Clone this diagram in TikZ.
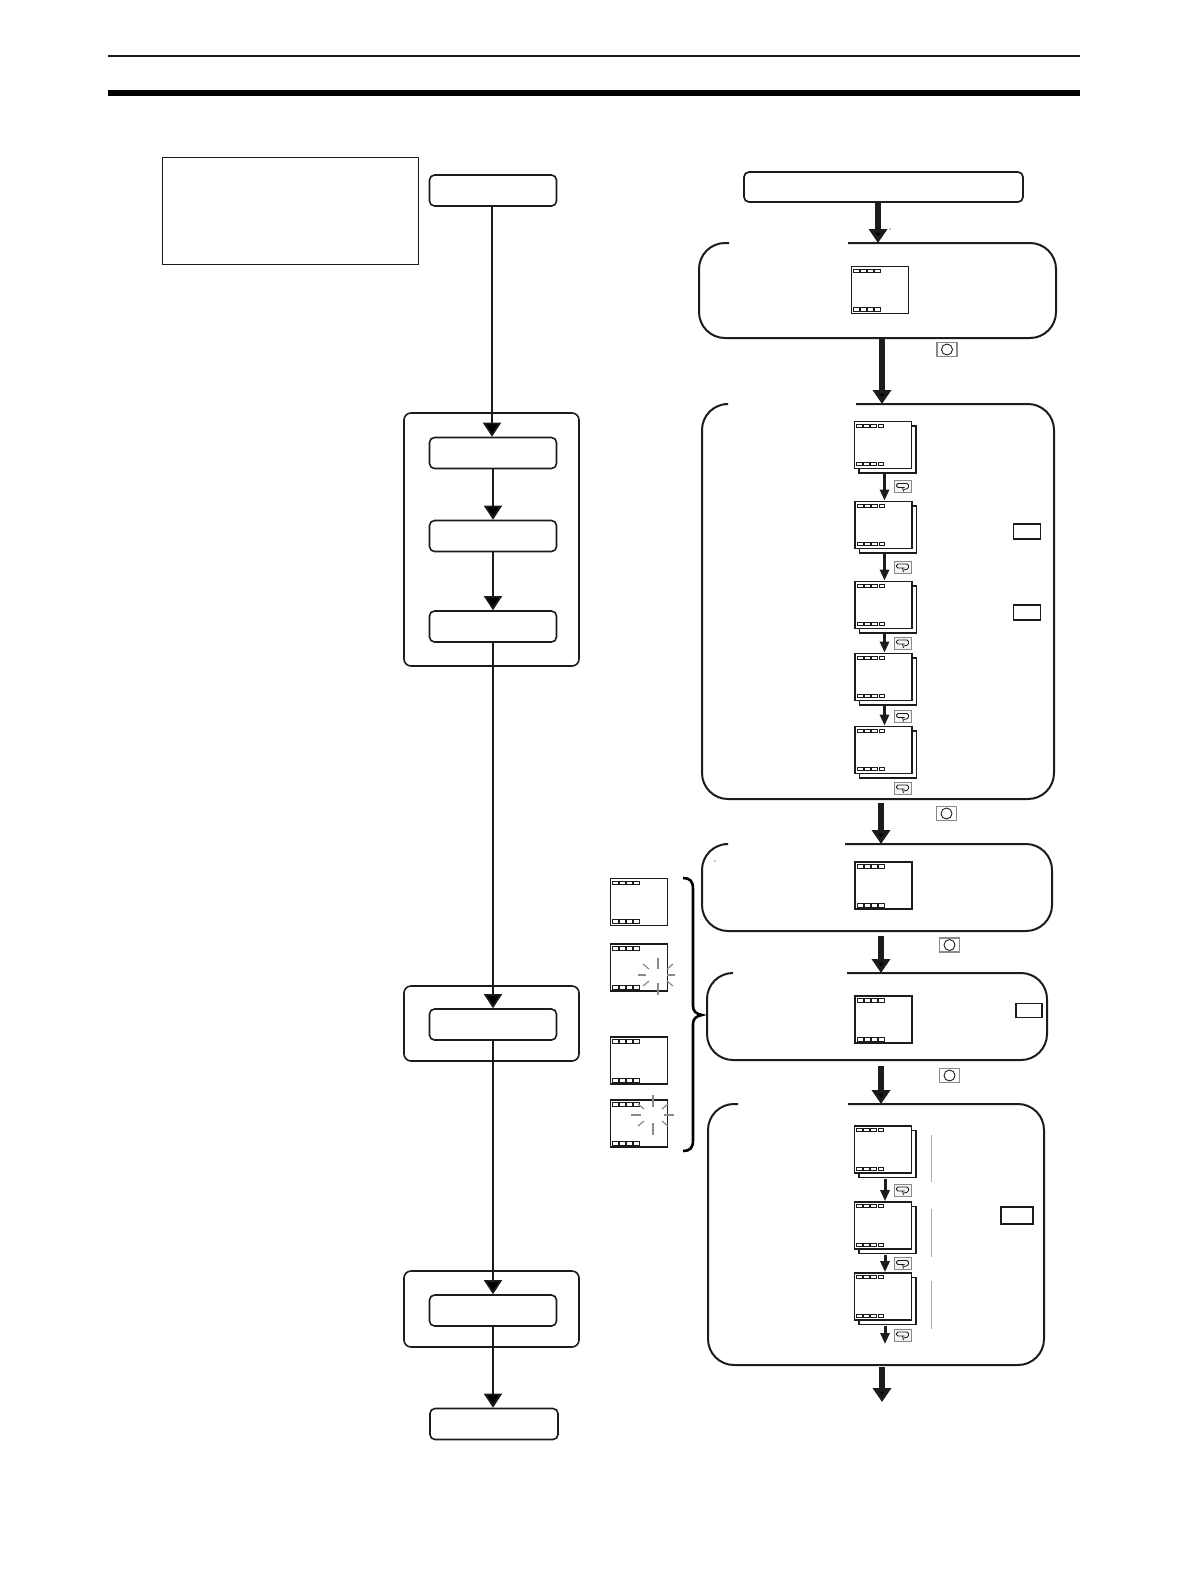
\documentclass[tikz,border=0pt]{standalone}
\usetikzlibrary{arrows.meta,calc,decorations.pathreplacing}
\definecolor{ink}{HTML}{1C1C1C}
\definecolor{soft}{HTML}{8A8A8A}
\tikzset{
  flowbox/.style={draw=ink,line width=1.6*0.75pt,rounded corners=5*0.75pt,inner sep=0pt,minimum width=127*0.75pt,minimum height=31*0.75pt,fill=white},
  groupbox/.style={draw=ink,line width=1.6*0.75pt,rounded corners=7*0.75pt,inner sep=0pt},
  panelline/.style={draw=ink,line width=2*0.75pt,rounded corners=26*0.75pt},
  lcdbox/.style={draw=ink,line width=1.7*0.75pt,fill=white,inner sep=0pt,minimum width=57*0.75pt,minimum height=47*0.75pt},
  lcdshadow/.style={draw=ink,line width=1.1*0.75pt,fill=white,inner sep=0pt,minimum width=57*0.75pt,minimum height=47*0.75pt},
  lcdcell/.style={draw=ink,line width=0.9*0.75pt},
  thinflow/.style={draw=ink,line width=1.7*0.75pt,-{Triangle[width=18*0.75pt,length=14*0.75pt,fill=black]}},
  heavyflow/.style={draw=ink,line width=6*0.75pt,-{Triangle[width=18*0.75pt,length=14*0.75pt,fill=black]}},
  stepflow/.style={draw=ink,line width=3*0.75pt,-{Triangle[width=9*0.75pt,length=11*0.75pt]}},
  keyring/.style={draw=soft,line width=1.2*0.75pt,inner sep=0pt,minimum width=20*0.75pt,minimum height=14*0.75pt,fill=white},
  keyloop/.style={draw=soft,line width=1*0.75pt,inner sep=0pt,minimum width=17*0.75pt,minimum height=12*0.75pt,fill=black!4},
  keyrect/.style={draw=ink,line width=1.5*0.75pt,inner sep=0pt,minimum width=27*0.75pt,minimum height=15*0.75pt},
  flashline/.style={draw=soft,line width=1.2*0.75pt},
  sideline/.style={draw=soft!70,line width=1*0.75pt}
}
% LCD: name, left, top
\newcommand\lcdplain[3]{%
  \begin{scope}[shift={(#2,#3)}]
    \node[lcdbox] (#1) at (28.5,23.5) {};
    \draw[ink,line width=1.5*0.75pt] (0,47) -- (57,47);
    \foreach \a/\b in {2/8,9/15,16/22,23/29}{
      \draw[lcdcell] (\a,2.5) rectangle (\b,6);
      \draw[lcdcell] (\a,41) rectangle (\b,45);
    }
  \end{scope}}
\newcommand\lcdstack[3]{%
  \begin{scope}[shift={(#2,#3)}]
    \node[lcdshadow] (#1s) at (33,28) {};
    \node[lcdbox] (#1) at (28.5,23.5) {};
    \foreach \a/\b in {2/8,9/15,16/22,24/29}{
      \draw[lcdcell] (\a,2.5) rectangle (\b,5.5);
      \draw[lcdcell] (\a,41) rectangle (\b,44);
    }
  \end{scope}}
% Open panel: x1,y1,x2,y2,gapL,gapR
\newcommand\openpanel[6]{%
  \draw[panelline] (#6,#2) -- (#3,#2) -- (#3,#4) -- (#1,#4) -- (#1,#2) -- (#5,#2);}
% keys
\newcommand\ringkey[3]{%
  \node[keyring] (#1) at (#2,#3) {};
  \draw[ink,line width=0.9*0.75pt] (#1.center) circle (5.5);}
\newcommand\loopkey[3]{%
  \node[keyloop] (#1) at (#2,#3) {};
  \draw[ink,line width=0.8*0.75pt,rounded corners=1.5*0.75pt] ($(#1.center)+(1,3)$) -- ($(#1.center)+(6,2)$) -- ($(#1.center)+(6,-3)$) -- ($(#1.center)+(-6,-3)$) -- ($(#1.center)+(-6,1)$) -- ($(#1.center)+(2,1)$);
  \draw[ink,line width=0.8*0.75pt] ($(#1.center)+(0,1)$) -- ($(#1.center)+(1,5)$);}
% flash: centre x,y
\newcommand\flash[9]{%
  \draw[flashline] (#1,#2) ++(#3,0) -- ++(#4,0);
  \draw[flashline] (#1,#2) ++(#5,0) -- ++(#6,0);
  \draw[flashline] (#1,#2) ++(0,#7) -- ++(0,#8);
  \draw[flashline] (#1,#2) ++(0,#9) -- ++(0,12);
  \foreach \sx/\sy in {-1/-1,1/-1,-1/1,1/1}{
    \draw[flashline] ($(#1,#2)+(\sx*9,\sy*6)$) -- ($(#1,#2)+(\sx*15,\sy*11)$);
  }}
\begin{document}
\begin{tikzpicture}[x=0.75pt,y=-0.75pt]
\useasboundingbox (0,0) rectangle (1190,1586);
\fill[white] (0,0) rectangle (1190,1586);
% header rules
\draw[ink,line width=1.6*0.75pt] (108,56) -- (1080,56);
\draw[black,line width=6*0.75pt] (108,93) -- (1080,93);
% note box
\node[draw=ink,line width=0.9*0.75pt,inner sep=0pt,minimum width=256*0.75pt,minimum height=107*0.75pt] (note) at (290.5,210.5) {};
% left groups
\node[groupbox,minimum width=175*0.75pt,minimum height=253*0.75pt] (g1) at (491.5,539.5) {};
\node[groupbox,minimum width=175*0.75pt,minimum height=75*0.75pt] (g2) at (491.5,1023.5) {};
\node[groupbox,minimum width=175*0.75pt,minimum height=76*0.75pt] (g3) at (491.5,1309) {};
% left boxes
\node[flowbox] (start) at (493,190.5) {};
\node[flowbox] (b1) at (493,453) {};
\node[flowbox] (b2) at (493,536) {};
\node[flowbox] (b3) at (493,626.5) {};
\node[flowbox] (b4) at (493,1024.5) {};
\node[flowbox] (b5) at (493,1310.5) {};
\node[flowbox,minimum width=128*0.75pt] (finish) at (494,1424) {};
\draw[thinflow] (start.south) ++(-1,0) -- (b1.north -| 492,0);
\draw[thinflow] (b1.south) -- (b2.north);
\draw[thinflow] (b2.south) -- (b3.north);
\draw[thinflow] (b3.south) -- (b4.north);
\draw[thinflow] (b4.south) -- (b5.north);
\draw[thinflow] (b5.south) -- (finish.north -| b5.south);
% right top box
\node[draw=ink,line width=1.7*0.75pt,rounded corners=5*0.75pt,inner sep=0pt,minimum width=279*0.75pt,minimum height=30*0.75pt] (top) at (883.5,187) {};
% panels
\openpanel{699}{243}{1056}{338}{729}{848}
\openpanel{702}{404}{1054}{799}{724}{856}
\openpanel{702}{844}{1052}{931}{724}{845}
\openpanel{707}{973}{1047}{1060}{733}{847}
\openpanel{708}{1104}{1044}{1365}{738}{848}
\coordinate (p1t) at (878,243);
\coordinate (p1b) at (882,338);
\coordinate (p2t) at (882,404);
\coordinate (p2b) at (881,803);
\coordinate (p3t) at (881,844);
\coordinate (p3b) at (881,936);
\coordinate (p4t) at (881,973);
\coordinate (p4b) at (881,1066);
\coordinate (p5t) at (881,1104);
\coordinate (p5b) at (882,1367);
\coordinate (out) at (882,1402);
\draw[heavyflow] (top.south -| p1t) -- (p1t);
\draw[heavyflow] (p1b) -- (p2t);
\draw[heavyflow] (p2b) -- (p3t);
\draw[heavyflow] (p3b) -- (p4t);
\draw[heavyflow] (p4b) -- (p5t);
\draw[heavyflow] (p5b) -- (out);
\fill[ink] (890,229) circle (0.6);
\fill[ink] (715,861) circle (0.6);
% ring keys
\ringkey{k1}{947}{349.5}
\ringkey{k2}{946.5}{813.5}
\ringkey{k3}{949.5}{945}
\ringkey{k4}{949.5}{1075.5}
% LCDs
\lcdplain{d1}{851.5}{266.5}
\lcdstack{s1}{854.5}{421.5}
\lcdstack{s2}{855}{501.5}
\lcdstack{s3}{855}{581.5}
\lcdstack{s4}{855}{653.5}
\lcdstack{s5}{855}{726.5}
\lcdplain{d3}{855}{862}
\lcdplain{d4}{855}{996}
\lcdstack{t1}{854.5}{1126}
\lcdstack{t2}{854.5}{1202}
\lcdstack{t3}{854.5}{1273}
\coordinate (sx) at (884.5,0);
\coordinate (tx) at (885,0);
\coordinate (t3e) at (885,1344);
% step arrows
\draw[stepflow] ($(s1.south -| sx)+(0,5)$) -- (s2.north -| sx);
\draw[stepflow] ($(s2.south -| sx)+(0,5)$) -- (s3.north -| sx);
\draw[stepflow] ($(s3.south -| sx)+(0,5)$) -- (s4.north -| sx);
\draw[stepflow] ($(s4.south -| sx)+(0,5)$) -- (s5.north -| sx);
\draw[stepflow] ($(t1.south -| tx)+(0,5)$) -- (t2.north -| tx);
\draw[stepflow] ($(t2.south -| tx)+(0,5)$) -- (t3.north -| tx);
\draw[stepflow] ($(t3.south -| tx)+(0,5)$) -- (t3e);
% loop keys
\loopkey{l1}{902.5}{486.5}
\loopkey{l2}{902.5}{567}
\loopkey{l3}{902.5}{643}
\loopkey{l4}{902.5}{716.5}
\loopkey{l5}{902.5}{788}
\loopkey{l6}{902.5}{1190}
\loopkey{l7}{902.5}{1263.5}
\loopkey{l8}{902.5}{1335}
% rect keys
\node[keyrect] (r1) at (1027,531.5) {};
\node[keyrect] (r2) at (1027,612.5) {};
\node[keyrect,minimum width=26*0.75pt,minimum height=14*0.75pt] (r3) at (1029,1010.5) {};
\node[keyrect,minimum width=32*0.75pt,minimum height=17*0.75pt] (r4) at (1017,1215.5) {};
% side rules
\draw[sideline] (931,1135) -- (931,1182);
\draw[sideline] (931,1209) -- (931,1257);
\draw[sideline] (931,1281) -- (931,1329);
% left LCD column
\lcdplain{e1}{610.5}{878.5}
\lcdplain{e2}{610.5}{944}
\lcdplain{e3}{610.5}{1037}
\lcdplain{e4}{610.5}{1100}
\flash{658}{975}{-20}{8}{9}{8}{-17}{11}{8}
\flash{653}{1115}{-22}{10}{11}{10}{-20}{12}{8}
% brace
\draw[black,line width=2.6*0.75pt] (683,878) .. controls (690,878) and (693,881) .. (693,889) -- (693,1006) .. controls (693,1011) and (696,1014) .. (702,1015) .. controls (696,1016) and (693,1019) .. (693,1024) -- (693,1140) .. controls (693,1148) and (690,1151) .. (683,1151);
\end{tikzpicture}
\end{document}
